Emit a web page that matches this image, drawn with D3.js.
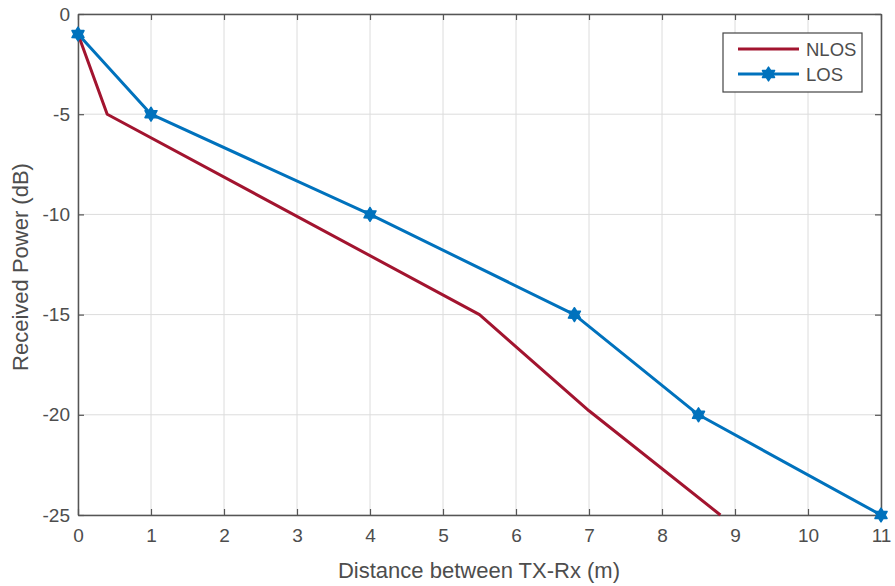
<!DOCTYPE html>
<html lang="en">
<head>
<meta charset="utf-8">
<title>Received Power vs Distance</title>
<script src="https://d3js.org/d3.v7.min.js"></script>
<style>
  body { margin: 0; background: #fff; }
  text { font-family: "Liberation Sans", Arial, sans-serif; fill: #4d4d4d; }
</style>
</head>
<body>
<script>
// data
var losX = [0, 1, 4, 6.8, 8.5, 11];
var losY = [-1, -5, -10, -15, -20, -25];
var nlosX = [0, 0.4, 5.5, 7, 8.8];
var nlosY = [-1, -5, -15, -19.8, -25];
var xTicks = [0, 1, 2, 3, 4, 5, 6, 7, 8, 9, 10, 11];
var yTicks = [0, -5, -10, -15, -20, -25];
var seriesNames = ["NLOS", "LOS"];

var w = 895, h = 586;
var pL = 78, pR = 881, pT = 14, pB = 515;

var x = d3.scaleLinear().domain([0, 11]).range([pL, pR]);
var y = d3.scaleLinear().domain([-25, 0]).range([pB, pT]);

var svg = d3.select("body").append("svg")
  .attr("width", w).attr("height", h);

// grid
svg.append("g").selectAll("line").data(xTicks).enter().append("line")
  .attr("x1", d => x(d)).attr("x2", d => x(d))
  .attr("y1", pT).attr("y2", pB)
  .attr("stroke", "#dcdcdc").attr("stroke-width", 1);
svg.append("g").selectAll("line").data(yTicks).enter().append("line")
  .attr("x1", pL).attr("x2", pR)
  .attr("y1", d => y(d)).attr("y2", d => y(d))
  .attr("stroke", "#dcdcdc").attr("stroke-width", 1);

// axes (ticks inward, box on)
function styleAxis(g) {
  g.select(".domain").attr("stroke", "#555").attr("stroke-width", 1.5);
  g.selectAll(".tick line").attr("stroke", "#555").attr("stroke-width", 1.2);
  g.selectAll("text").style("font-size", "19px").attr("fill", "#4d4d4d");
}
var fmt = d => String(d); // plain hyphen minus like the reference
svg.append("g").attr("transform", "translate(0," + pB + ")")
  .call(d3.axisBottom(x).tickValues(xTicks).tickSizeInner(-6).tickSizeOuter(0).tickPadding(14).tickFormat(fmt))
  .call(styleAxis);
svg.append("g").attr("transform", "translate(" + pL + ",0)")
  .call(d3.axisLeft(y).tickValues(yTicks).tickSizeInner(-6).tickSizeOuter(0).tickPadding(8).tickFormat(fmt))
  .call(styleAxis);
svg.append("g").attr("transform", "translate(0," + pT + ")")
  .call(d3.axisTop(x).tickValues(xTicks).tickSizeInner(-6).tickSizeOuter(0).tickFormat(""))
  .call(styleAxis);
svg.append("g").attr("transform", "translate(" + pR + ",0)")
  .call(d3.axisRight(y).tickValues(yTicks).tickSizeInner(-6).tickSizeOuter(0).tickFormat(""))
  .call(styleAxis);

// axis labels
svg.append("text").attr("x", 479).attr("y", 578)
  .attr("text-anchor", "middle").style("font-size", "22px")
  .text("Distance between TX-Rx (m)");
svg.append("text").attr("transform", "translate(28,267) rotate(-90)")
  .attr("text-anchor", "middle").style("font-size", "22px")
  .text("Received Power (dB)");

var line = d3.line().x(d => x(d[0])).y(d => y(d[1]));
var nlos = nlosX.map((v, i) => [v, nlosY[i]]);
var los = losX.map((v, i) => [v, losY[i]]);

var red = "#A2142F", blue = "#0072BD";

svg.append("path").datum(nlos).attr("d", line)
  .attr("fill", "none").attr("stroke", red).attr("stroke-width", 3)
  .attr("stroke-linejoin", "round");
svg.append("path").datum(los).attr("d", line)
  .attr("fill", "none").attr("stroke", blue).attr("stroke-width", 3)
  .attr("stroke-linejoin", "round");

// hexagram marker, like MATLAB 'h'
var hexagram = {
  draw: function (ctx, size) {
    var r = Math.sqrt(size) * 0.62, r2 = r * 0.6;
    for (var i = 0; i < 12; i++) {
      var a = Math.PI / 2 + i * Math.PI / 6;
      var rr = i % 2 ? r2 : r;
      var px = rr * Math.cos(a), py = -rr * Math.sin(a);
      if (i === 0) ctx.moveTo(px, py); else ctx.lineTo(px, py);
    }
    ctx.closePath();
  }
};
var mark = d3.symbol().type(hexagram).size(125);
svg.append("g").selectAll("path").data(los).enter().append("path")
  .attr("d", mark)
  .attr("transform", d => "translate(" + x(d[0]) + "," + y(d[1]) + ")")
  .attr("fill", blue).attr("stroke", blue).attr("stroke-width", 1.5)
  .attr("stroke-linejoin", "round");

// legend
var lg = svg.append("g");
lg.append("rect").attr("x", 723).attr("y", 33).attr("width", 139).attr("height", 59)
  .attr("fill", "#fff").attr("stroke", "#444").attr("stroke-width", 1.2);
var legY = [49, 74], legC = [red, blue];
seriesNames.forEach(function (n, i) {
  lg.append("line").attr("x1", 738).attr("x2", 799)
    .attr("y1", legY[i]).attr("y2", legY[i])
    .attr("stroke", legC[i]).attr("stroke-width", 3);
  if (n === "LOS") {
    lg.append("path").attr("d", mark)
      .attr("transform", "translate(768.5," + legY[i] + ")")
      .attr("fill", blue).attr("stroke", blue).attr("stroke-width", 1.5)
      .attr("stroke-linejoin", "round");
  }
  lg.append("text").attr("x", 806).attr("y", legY[i] + 7)
    .style("font-size", "18.5px").attr("fill", "#222").text(n);
});
</script>
</body>
</html>
